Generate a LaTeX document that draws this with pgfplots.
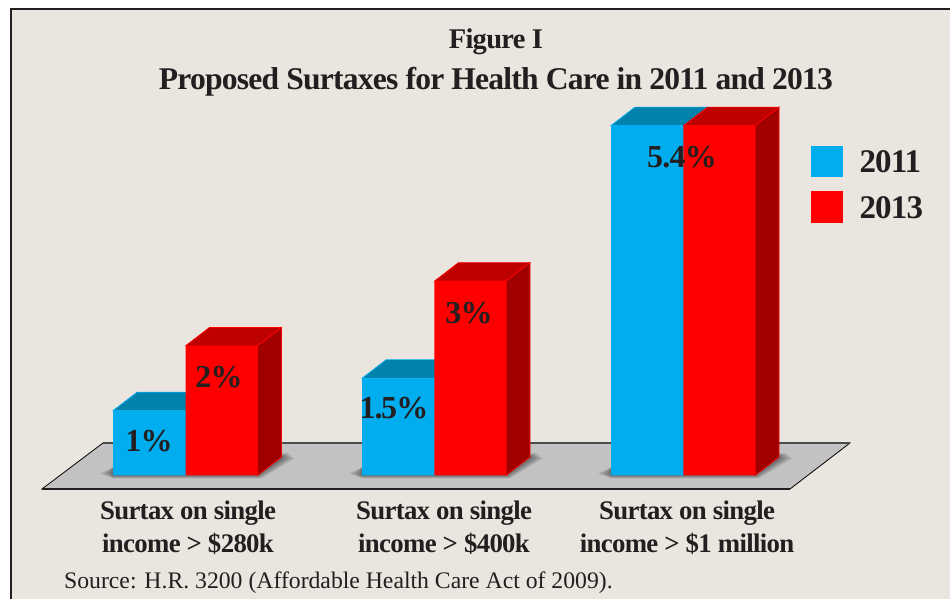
\documentclass[border=0pt]{standalone}
\usepackage{pgfplots}
\pgfplotsset{compat=1.18}
\usepackage{fontspec}
\setmainfont{Liberation Serif}

\definecolor{paper}{HTML}{EBE5DF}
\definecolor{plate}{HTML}{C2C2C2}
\definecolor{ink}{HTML}{231F20}
\definecolor{barblue}{HTML}{00AEEF}
\definecolor{topblue}{HTML}{0082AD}
\definecolor{barred}{HTML}{FF0000}
\definecolor{topred}{HTML}{BF0000}
\definecolor{sidered}{HTML}{A00000}

% Bold Times-style face with the tight setting used throughout the figure
\newcommand{\tightbold}[2]{\fontsize{#1}{#2}\selectfont\bfseries\addfontfeatures{LetterSpace=-2.5}}

% Receding top and right faces of a solid bar:
% left edge, right edge, height, edge colour, top colour, side colour
\newcommand{\barfaces}[6]{%
  \pgfmathsetmacro\xla{#1+24}%
  \pgfmathsetmacro\xra{#2+24}%
  \pgfmathsetmacro\vba{#3+0.285}%
  \addplot[forget plot,fill=#6,draw=#4,line width=.7pt] coordinates {(#2,0) (#2,#3) (\xra,\vba) (\xra,0.285)} --cycle;
  \addplot[forget plot,fill=#5,draw=#4,line width=.7pt] coordinates {(#1,#3) (\xla,\vba) (\xra,\vba) (#2,#3)} --cycle;
}
% Soft contact shadow under a bar group, built from nested translucent outlines
\newcommand{\shadowlayer}[3]{%
  \pgfmathsetmacro\xa{#1-#3}%
  \pgfmathsetmacro\xb{#2+#3*0.3}%
  \pgfmathsetmacro\xc{#2+24+#3}%
  \pgfmathsetmacro\xd{#2+24+#3*0.5}%
  \pgfmathsetmacro\xe{#1+24}%
  \pgfmathsetmacro\ya{-0.22*#3/64.8}%
  \pgfmathsetmacro\yb{2/64.8}%
  \pgfmathsetmacro\yc{8/64.8}%
  \pgfmathsetmacro\yd{17/64.8}%
  \pgfmathsetmacro\ye{(19+#3*0.25)/64.8}%
  \addplot[forget plot,fill=black,fill opacity=.09,draw=none] coordinates {(\xa,\yb) (#1,\ya) (\xb,\ya) (\xc,\yd) (\xd,\ye) (\xe,\ye) (#1,\yc)} --cycle;
}
\newcommand{\groupshadow}[2]{%
  \shadowlayer{#1}{#2}{13}\shadowlayer{#1}{#2}{10.5}\shadowlayer{#1}{#2}{8}%
  \shadowlayer{#1}{#2}{5.5}\shadowlayer{#1}{#2}{3}\shadowlayer{#1}{#2}{1}%
}

\begin{document}
\begin{tikzpicture}
\begin{axis}[
  at={(0pt,0pt)},anchor=south west,
  scale only axis,width=950pt,height=599pt,
  xmin=0,xmax=950,ymin=-1.9059,ymax=7.338,
  clip=false,
  axis on top,
  axis y line=none,
  axis x line*=bottom,
  x axis line style={draw=none},
  major tick length=0pt,
  xtick={188,444,687},
  xticklabels={{Surtax on single\\income > \$280k},{Surtax on single\\income > \$400k},{Surtax on single\\income > \$1 million}},
  xticklabel style={align=center,text=ink,yshift=98pt,inner sep=0pt,
    font=\tightbold{26.8}{32.5}},
  title={{\tightbold{28.5}{41}Figure I}\\[12pt]{\tightbold{31.6}{41}Proposed Surtaxes for Health Care in 2011 and 2013}},
  title style={at={(0.522,0.8855)},anchor=center,align=center,text=ink},
  legend style={at={(0.8534,0.7568)},anchor=north west,draw=none,fill=none,inner sep=0pt,
    text=ink,font=\tightbold{33}{33},row sep=13.7pt,
    cells={anchor=west},nodes={inner sep=0pt}},
  legend image code/.code={\path[#1,draw=none] (0pt,-15.8pt) rectangle (31.6pt,15.8pt);},
]
% page ground and frame
\addplot[forget plot,fill=paper,draw=none] coordinates {(11,-1.9059) (11,7.2) (950,7.2) (950,-1.9059)} --cycle;
\addplot[forget plot,ink,line width=2pt] coordinates {(11,-1.9059) (11,7.2) (950,7.2)};

% floor plate
\addplot[forget plot,fill=plate,draw=black,line width=.8pt] coordinates {(42,-0.2083) (103,0.5015) (850,0.5015) (790,-0.2083)} --cycle;
\addplot[forget plot,draw=black!70,line width=1.4pt] coordinates {(103,0.5015) (850,0.5015)};
\addplot[forget plot,draw=ink,line width=1.6pt] coordinates {(42,-0.2083) (790,-0.2083)};

\groupshadow{113}{257.5}
\groupshadow{362}{506}
\groupshadow{611}{755}

% 2011 bars
\barfaces{113}{185.5}{1}{barblue}{topblue}{topblue}
\barfaces{362}{434.5}{1.5}{barblue}{topblue}{topblue}
\barfaces{611}{683.5}{5.4}{barblue}{topblue}{topblue}
\addplot[ybar,bar width=72.4pt,fill=barblue,draw=none] coordinates {(149.25,1) (398.25,1.5) (647.25,5.4)};
\addlegendentry{\hspace{17pt}\raisebox{-1.5pt}{2011}}

% 2013 bars
\barfaces{185.5}{257.5}{2}{barred}{topred}{sidered}
\barfaces{434.5}{506}{3}{barred}{topred}{sidered}
\barfaces{683.5}{755}{5.4}{barred}{topred}{sidered}
\addplot[ybar,bar width=72pt,fill=barred,draw=none] coordinates {(221.5,2) (470.25,3) (719.25,5.4)};
\addlegendentry{\hspace{17pt}\raisebox{-3pt}{2013}}

% value labels
\begin{scope}[every node/.style={text=ink,font=\tightbold{32}{32},inner sep=0pt}]
\node[yshift=-30pt] at (axis cs:149,1) {1\%};
\node[yshift=-31pt] at (axis cs:219,2) {2\%};
\node[yshift=-30pt] at (axis cs:394,1.5) {1\kern-1pt.\kern-1.5pt 5\%};
\node[yshift=-32pt] at (axis cs:469,3) {3\%};
\node[yshift=-32pt] at (axis cs:682,5.4) {5.4\%};
\end{scope}

% source line
\node[anchor=base west,inner sep=0pt,text=ink,font=\fontsize{23.7}{23.7}\selectfont] at (axis cs:64,-1.74)
  {Source: H.R. 3200 (Affordable Health Care Act of 2009).};
\end{axis}
\pgfresetboundingbox
\path[use as bounding box] (0pt,0pt) rectangle (950pt,599pt);
\end{tikzpicture}
\end{document}
